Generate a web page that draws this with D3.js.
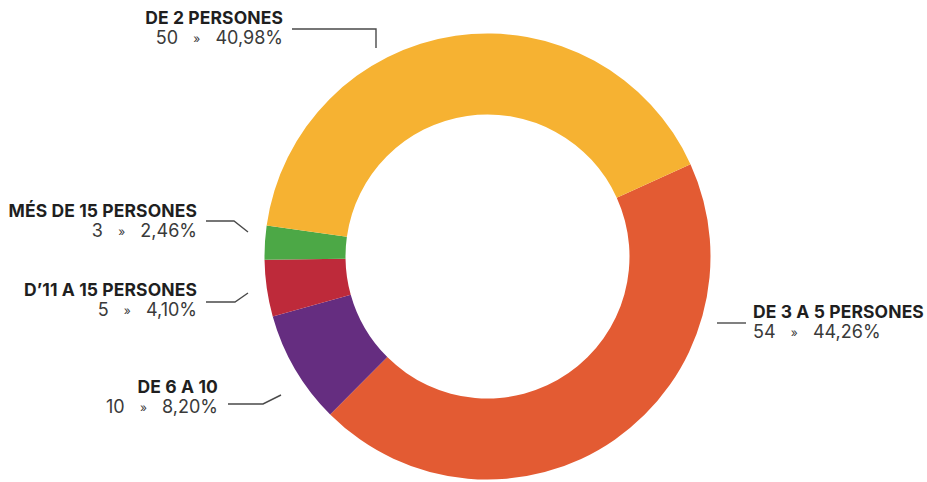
<!DOCTYPE html>
<html>
<head>
<meta charset="utf-8">
<script src="https://cdn.jsdelivr.net/npm/d3@7"></script>
<style>
  html, body { margin: 0; padding: 0; background: #fff; }
  svg { display: block; }
  .lbl { font-family: Inter, "Open Sans", sans-serif; }
</style>
</head>
<body>
<svg id="chart" width="927" height="482"></svg>
<script>
// Group sizes (clockwise from the upper right)
const categories = ["DE 3 A 5 PERSONES", "DE 6 A 10", "D’11 A 15 PERSONES", "MÉS DE 15 PERSONES", "DE 2 PERSONES"];
const counts = [54, 10, 5, 3, 50];
const percentLabels = ["44,26%", "8,20%", "4,10%", "2,46%", "40,98%"];
const colors = ["#E35B33", "#652D80", "#BE2A3A", "#4CA846", "#F6B232"];

const svg = d3.select("#chart");
const cx = 487.5, cy = 256.5, outerR = 223, innerR = 142;

const total = d3.sum(counts);
// Rotate so the boundary between the 11-15 and 15+ groups sits at 9 o'clock
const before = d3.sum(counts.slice(0, 3)) / total * 2 * Math.PI;
const start = 1.5 * Math.PI - before - 0.015;

const pie = d3.pie().sort(null).value(d => d)
  .startAngle(start).endAngle(start + 2 * Math.PI);
const arc = d3.arc().innerRadius(innerR).outerRadius(outerR);

const g = svg.append("g").attr("transform", `translate(${cx},${cy})`);
g.selectAll("path")
  .data(pie(counts))
  .join("path")
  .attr("d", arc)
  .attr("fill", (d, i) => colors[i]);

// Label layout: anchor point, alignment and leader line per group
const layout = [
  { x: 753, y: 318, anchor: "start", line: [[717, 323], [746, 323]] },
  { x: 218, y: 393, anchor: "end", line: [[228, 404], [263, 404], [281, 395]] },
  { x: 197, y: 296, anchor: "end", line: [[206, 302], [235, 302], [248, 293]] },
  { x: 197, y: 217, anchor: "end", line: [[206, 221], [234, 221], [248, 232]] },
  { x: 283, y: 24, anchor: "end", line: [[292, 29], [376, 29], [376, 48]] }
];

const labels = svg.append("g").attr("class", "lbl");
categories.forEach((name, i) => {
  const L = layout[i];
  labels.append("path")
    .attr("d", d3.line()(L.line))
    .attr("fill", "none")
    .attr("stroke", "#4a4a4a")
    .attr("stroke-width", 1.4);
  labels.append("text")
    .attr("x", L.x).attr("y", L.y)
    .attr("text-anchor", L.anchor)
    .attr("font-size", 17.5)
    .attr("font-weight", 700)
    .attr("letter-spacing", 0.1)
    .attr("fill", "#1f1f1f")
    .text(name);
  const v = labels.append("text")
    .attr("x", L.x).attr("y", L.y + 20)
    .attr("text-anchor", L.anchor)
    .attr("font-size", 18)
    .attr("font-weight", 400)
    .attr("fill", "#3a3a3a")
    .style("white-space", "pre");
  v.append("tspan").text(counts[i] + "   ");
  v.append("tspan").attr("font-size", 12).attr("dy", -1).text("»");
  v.append("tspan").attr("dy", 1).text("   " + percentLabels[i]);
});
</script>
</body>
</html>
